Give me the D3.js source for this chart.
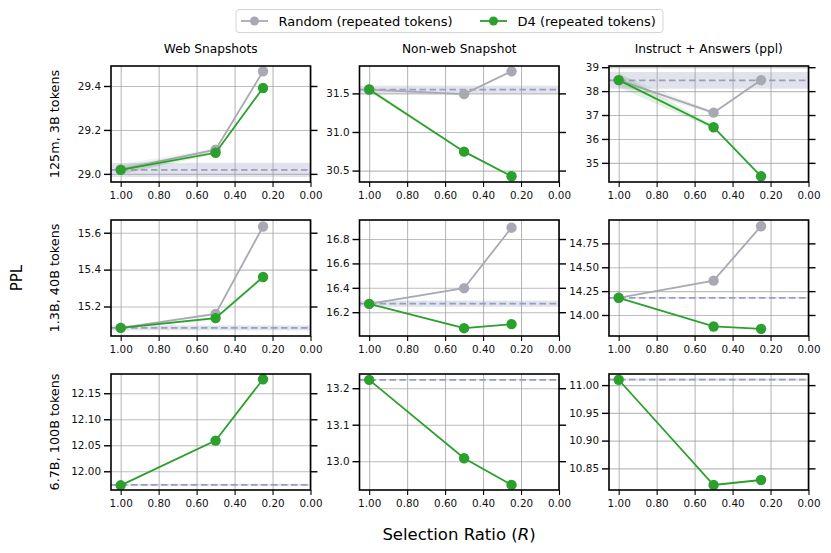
<!DOCTYPE html>
<html>
<head>
<meta charset="utf-8">
<script src="https://cdn.jsdelivr.net/npm/d3@7"></script>
<style>
  body { margin: 0; background: #fff; }
  svg { font-family: "DejaVu Sans", sans-serif; }
</style>
</head>
<body>
<svg id="chart" width="831" height="553"></svg>
<script>
// selection ratios on the x axis
const ratios = [1.0, 0.5, 0.25];
const xTicks = [1.0, 0.8, 0.6, 0.4, 0.2, 0.0];

const colTitles = ["Web Snapshots", "Non-web Snapshot", "Instruct + Answers (ppl)"];
const rowLabels = ["125m, 3B tokens", "1.3B, 40B tokens", "6.7B, 100B tokens"];

// PPL per row (model size) and column (eval set)
const randomPPL = [
    [[29.02, 29.11, 29.467], [31.55, 31.49, 31.786], [38.46, 37.10, 38.46]],
    [[15.084, 15.16, 15.634], [16.268, 16.397, 16.893], [14.18, 14.36, 14.93]],
    [null, null, null]
];
const randomStd = [
    [[0.025, 0.006, 0.003], [0.02, 0.01, 0.01], [0.25, 0.06, 0.02]],
    [[0.005, 0.008, 0.004], [0.005, 0.006, 0.005], [0.005, 0.005, 0.005]],
    [null, null, null]
];
const d4PPL = [
    [[29.018, 29.096, 29.391], [31.55, 30.745, 30.426], [38.46, 36.49, 34.44]],
    [[15.084, 15.137, 15.36], [16.268, 16.069, 16.102], [14.18, 13.88, 13.855]],
    [[11.973, 12.059, 12.177], [13.223, 13.008, 12.935], [11.0096, 10.82, 10.829]]
];
const d4Std = [
    [[0.02, 0.006, 0.003], [0.03, 0.01, 0.005], [0.3, 0.07, 0.02]],
    [[0.004, 0.008, 0.01], [0.005, 0.008, 0.005], [0.005, 0.004, 0.004]],
    [[0.001, 0.001, 0.001], [0.001, 0.001, 0.001], [0.001, 0.001, 0.001]]
];

// full-data baseline (dashed) and its band half-width
const baseline = [
    [29.018, 31.55, 38.45],
    [15.084, 16.27, 14.18],
    [11.974, 13.223, 11.01]
];
const baselineBand = [
    [0.032, 0.05, 0.35],
    [0.013, 0.025, 0.008],
    [0.002, 0.002, 0.002]
];

// y limits and ticks
const yLimits = [
    [[28.963, 29.491], [30.352, 31.855], [34.2, 39.05]],
    [[15.04, 15.669], [16.005, 16.956], [13.78, 14.995]],
    [[11.964, 12.187], [12.921, 13.239], [10.811, 11.02]]
];
const yTicks = [
    [[29.0, 29.2, 29.4], [30.5, 31.0, 31.5], [35, 36, 37, 38, 39]],
    [[15.2, 15.4, 15.6], [16.2, 16.4, 16.6, 16.8], [14.0, 14.25, 14.5, 14.75]],
    [[12.0, 12.05, 12.10, 12.15], [13.0, 13.1, 13.2], [10.85, 10.90, 10.95, 11.0]]
];
const yFormats = [
    [".1f", ".1f", ".0f"],
    [".1f", ".1f", ".2f"],
    [".2f", ".1f", ".2f"]
];

const grayColor = "#a9a9b4";
const greenColor = "#2ca02c";
const baseColor = "#9a9fbf";

const svg = d3.select("#chart");

const colX = [111, 359.5, 609];
const rowY = [66, 220, 374];
const pw = 199.5, ph = 116;

const xScale = d3.scaleLinear().domain([1.051, 0]).range([0, pw]);

svg.append("defs").append("clipPath").attr("id", "clip")
    .append("rect").attr("width", pw).attr("height", ph);

function drawSeries(g, y, values, std, color) {
    const pts = ratios.map((r, i) => ({ x: r, y: values[i], s: std ? std[i] : 0 }));
    const area = d3.area()
        .x(d => xScale(d.x))
        .y0(d => y(d.y - d.s))
        .y1(d => y(d.y + d.s));
    g.append("path").datum(pts)
        .attr("d", area)
        .attr("fill", color)
        .attr("opacity", 0.15);
    const line = d3.line().x(d => xScale(d.x)).y(d => y(d.y));
    g.append("path").datum(pts)
        .attr("d", line)
        .attr("fill", "none")
        .attr("stroke", color)
        .attr("stroke-width", 1.8);
    g.selectAll(null).data(pts).enter().append("circle")
        .attr("cx", d => xScale(d.x))
        .attr("cy", d => y(d.y))
        .attr("r", 5.2)
        .attr("fill", color);
}

for (let r = 0; r < 3; r++) {
    for (let c = 0; c < 3; c++) {
        const g = svg.append("g").attr("transform", `translate(${colX[c]},${rowY[r]})`);
        const y = d3.scaleLinear().domain(yLimits[r][c]).range([ph, 0]);

        // grid
        g.append("g").attr("class", "hgrid")
            .call(d3.axisLeft(y).tickValues(yTicks[r][c]).tickSize(-pw).tickFormat(""))
            .call(a => a.select(".domain").remove())
            .call(a => a.selectAll("line").attr("stroke", "#bdbdbd").attr("stroke-width", 1.1));
        g.append("g").attr("class", "vgrid")
            .attr("transform", `translate(0,${ph})`)
            .call(d3.axisBottom(xScale).tickValues(xTicks).tickSize(-ph).tickFormat(""))
            .call(a => a.select(".domain").remove())
            .call(a => a.selectAll("line").attr("stroke", "#a0a0a0").attr("stroke-width", 0.8));

        const plot = g.append("g").attr("clip-path", "url(#clip)");

        // baseline band and dashed line
        const b = baseline[r][c], bw = baselineBand[r][c];
        plot.append("rect")
            .attr("x", 0).attr("width", pw)
            .attr("y", y(b + bw)).attr("height", y(b - bw) - y(b + bw))
            .attr("fill", baseColor).attr("opacity", 0.3);
        plot.append("line")
            .attr("x1", 0).attr("x2", pw)
            .attr("y1", y(b)).attr("y2", y(b))
            .attr("stroke", baseColor).attr("stroke-width", 1.8)
            .attr("stroke-dasharray", "6.5,3.5");

        if (randomPPL[r][c]) drawSeries(plot, y, randomPPL[r][c], randomStd[r][c], grayColor);
        drawSeries(plot, y, d4PPL[r][c], d4Std[r][c], greenColor);

        // frame
        g.append("rect").attr("width", pw).attr("height", ph)
            .attr("fill", "none").attr("stroke", "#000").attr("stroke-width", 1.6);

        // axes
        const fmt = d3.format(yFormats[r][c]);
        g.append("g")
            .call(d3.axisLeft(y).tickValues(yTicks[r][c]).tickSize(7).tickPadding(3).tickFormat(fmt))
            .call(a => a.select(".domain").remove())
            .call(a => a.selectAll("line").attr("stroke", "#000").attr("stroke-width", 1.4))
            .call(a => a.selectAll("text").attr("font-size", 10.4).attr("fill", "#111")
                .attr("font-family", "DejaVu Sans"));
        g.append("g").attr("transform", `translate(${pw},0)`)
            .call(d3.axisRight(y).tickValues(yTicks[r][c]).tickSize(7).tickFormat(""))
            .call(a => a.select(".domain").remove())
            .call(a => a.selectAll("line").attr("stroke", "#000").attr("stroke-width", 1.4));
        g.append("g").attr("transform", `translate(0,${ph})`)
            .call(d3.axisBottom(xScale).tickValues(xTicks).tickSize(5).tickPadding(5).tickFormat(d3.format(".2f")))
            .call(a => a.select(".domain").remove())
            .call(a => a.selectAll("line").attr("stroke", "#000").attr("stroke-width", 1.1))
            .call(a => a.selectAll("text").attr("font-size", 10.4).attr("fill", "#111")
                .attr("font-family", "DejaVu Sans"));

        if (r === 0) {
            g.append("text")
                .attr("x", pw / 2).attr("y", -13)
                .attr("text-anchor", "middle")
                .attr("font-size", 12.2)
                .text(colTitles[c]);
        }
        if (c === 0) {
            g.append("text")
                .attr("transform", `translate(${55 - colX[0]},${ph / 2}) rotate(-90)`)
                .attr("text-anchor", "middle")
                .attr("dominant-baseline", "middle")
                .attr("font-size", 12.8)
                .text(rowLabels[r]);
        }
    }
}

// PPL label
svg.append("text")
    .attr("transform", "translate(17,278) rotate(-90)")
    .attr("text-anchor", "middle")
    .attr("dominant-baseline", "middle")
    .attr("font-size", 15)
    .text("PPL");

// x label
const xl = svg.append("text")
    .attr("x", 459).attr("y", 540)
    .attr("text-anchor", "middle")
    .attr("font-size", 16.5);
xl.append("tspan").text("Selection Ratio (");
xl.append("tspan").attr("font-style", "italic").text("R");
xl.append("tspan").text(")");

// legend
const legendItems = [
    { label: "Random (repeated tokens)", color: grayColor, x: 241 },
    { label: "D4 (repeated tokens)", color: greenColor, x: 480 }
];
svg.append("rect")
    .attr("x", 236).attr("y", 9.5).attr("width", 427).attr("height", 23)
    .attr("rx", 3).attr("fill", "#fff")
    .attr("stroke", "#d4d4d4").attr("stroke-width", 1);
const li = svg.selectAll(".legend").data(legendItems).enter().append("g")
    .attr("class", "legend")
    .attr("transform", d => `translate(${d.x},21)`);
li.append("line").attr("x1", 0).attr("x2", 27)
    .attr("stroke", d => d.color).attr("stroke-width", 1.8);
li.append("circle").attr("cx", 13.5).attr("r", 4.5).attr("fill", d => d.color);
li.append("text").attr("x", 37.5).attr("dy", "0.35em")
    .attr("font-size", 13).text(d => d.label);
</script>
</body>
</html>
